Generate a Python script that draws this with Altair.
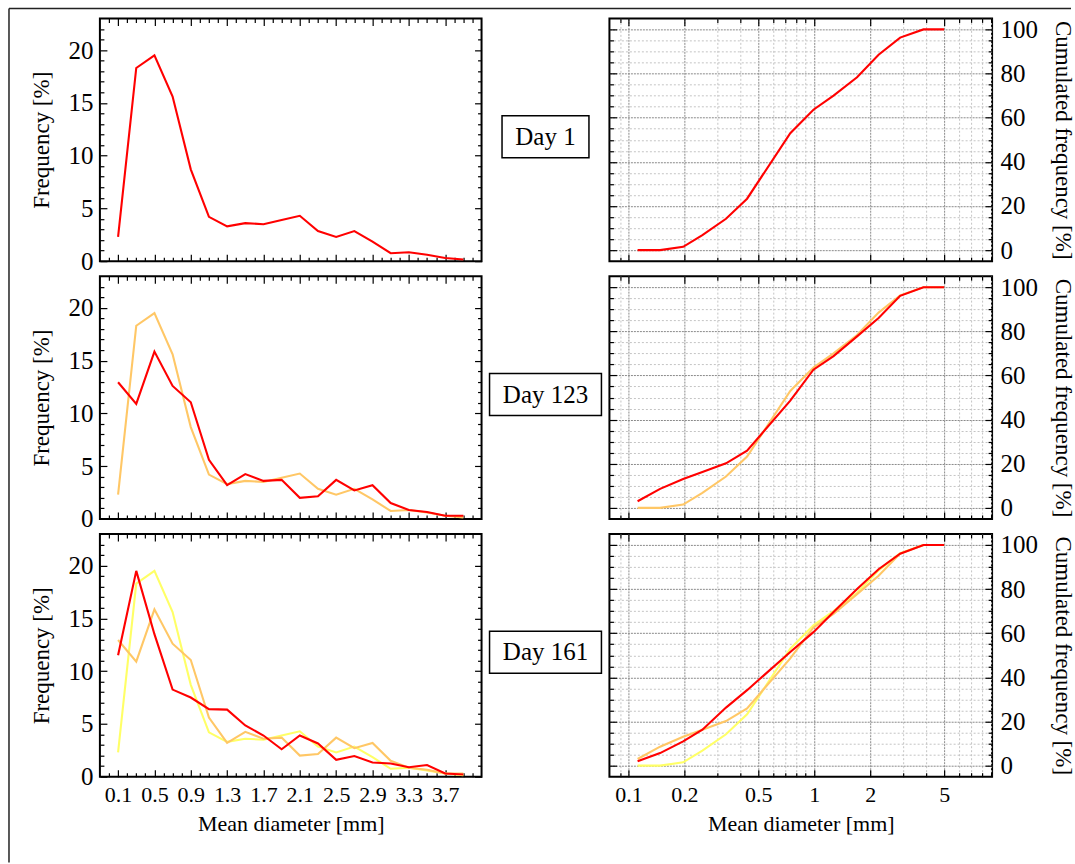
import altair as alt
import pandas as pd

# ---------------- data ----------------
days = ["Day 1", "Day 123", "Day 161"]

mean_diameter = [0.1, 0.3, 0.5, 0.7, 0.9, 1.1, 1.3, 1.5, 1.7, 1.9,
                 2.1, 2.3, 2.5, 2.7, 2.9, 3.1, 3.3, 3.5, 3.7, 3.9]
freq_day1 = [2.3, 18.3, 19.5, 15.6, 8.7, 4.2, 3.3, 3.6, 3.5, 3.9,
             4.3, 2.85, 2.3, 2.85, 1.85, 0.75, 0.85, 0.6, 0.3, 0.15]
freq_day123 = [12.95, 10.9, 15.85, 12.6, 11.05, 5.6, 3.2, 4.25, 3.6, 3.7,
               2.0, 2.15, 3.7, 2.7, 3.2, 1.5, 0.85, 0.65, 0.3, 0.3]
freq_day161 = [11.5, 19.5, 13.5, 8.25, 7.5, 6.4, 6.35, 4.85, 3.9, 2.6,
               3.9, 3.15, 1.6, 1.95, 1.35, 1.25, 0.9, 1.1, 0.3, 0.2]

sieve_diameter = [0.112, 0.148, 0.197, 0.25, 0.335, 0.435, 0.743, 0.99,
                  1.27, 1.7, 2.22, 2.9, 3.87, 5.0]
cum_day1 = [0, 0, 1.5, 6.8, 14.2, 23.3, 53.0, 63.6, 70.0, 78.3, 88.5, 96.3, 100, 100]
cum_day123 = [3.0, 8.6, 13.1, 16.3, 20.2, 25.9, 48.6, 62.6, 68.8, 77.7, 86.0, 96.1, 100, 100]
cum_day161 = [2.0, 5.7, 11.0, 16.3, 26.3, 34.2, 51.5, 60.5, 69.6, 80.0, 89.0, 96.0, 100, 100]

freq_x_labels = [0.1, 0.5, 0.9, 1.3, 1.7, 2.1, 2.5, 2.9, 3.3, 3.7]
freq_x_minor = [0.0, 0.2, 0.3, 0.4, 0.6, 0.7, 0.8, 1.0, 1.1, 1.2, 1.4, 1.5, 1.6,
                1.8, 1.9, 2.0, 2.2, 2.3, 2.4, 2.6, 2.7, 2.8, 3.0, 3.1, 3.2,
                3.4, 3.5, 3.6, 3.8, 3.9, 4.0]
freq_y_labels = [0, 5, 10, 15, 20]
freq_y_minor = [1, 2, 3, 4, 6, 7, 8, 9, 11, 12, 13, 14, 16, 17, 18, 19, 21, 22]
log_x_labels = [0.1, 0.2, 0.5, 1, 2, 5]
log_x_minor = [0.09, 0.3, 0.4, 0.6, 0.7, 0.8, 0.9, 3, 4, 6, 7, 8, 9]
cum_y_labels = [0, 20, 40, 60, 80, 100]
cum_y_minor = [5, 10, 15, 25, 30, 35, 45, 50, 55, 65, 70, 75, 85, 90, 95]

freq_series = [freq_day1, freq_day123, freq_day161]
cum_series = [cum_day1, cum_day123, cum_day161]

# ---------------- styles ----------------
FONT = "Liberation Serif"
RED, ORANGE, YELLOW = "#ff0000", "#ffc766", "#ffff66"
ROW_COLORS = [[RED], [ORANGE, RED], [YELLOW, ORANGE, RED]]
PW_L, PW_R, PH = 382, 383, 243
MID_W = 112
MAJ, MIN = 7, 4


def tick_axis(orient, values, size, labels=False, title=None, **kw):
    opts = dict(orient=orient, values=values, tickSize=size, offset=-size,
                domain=False, grid=False, ticks=True, tickColor="black",
                tickWidth=1.2, labels=labels, title=title)
    opts.update(kw)
    return alt.Axis(**opts)


def grid_axis(orient, values, color, dash):
    return alt.Axis(orient=orient, values=values, grid=True, gridColor=color,
                    gridDash=dash, gridWidth=1, ticks=False, labels=False,
                    domain=False, title=None)


def axis_layers(df, xs, ys, pairs):
    out = []
    for xa, ya in pairs:
        out.append(alt.Chart(df).mark_point(opacity=0).encode(
            x=alt.X("d:Q", scale=xs, axis=xa),
            y=alt.Y("v:Q", scale=ys, axis=ya)))
    return out


def frame_layers():
    one = pd.DataFrame({"k": [0]})
    top = alt.Chart(one).mark_rule(color="#222", strokeWidth=1.5).encode(
        x=alt.value(-91), x2=alt.value(972), y=alt.value(-10))
    left = alt.Chart(one).mark_rule(color="#222", strokeWidth=1.5).encode(
        x=alt.value(-91), y=alt.value(-10), y2=alt.value(845))
    return [top, left]


def freq_panel(row):
    last = row == 2
    xs = alt.Scale(domain=[-0.1, 4.1], nice=False, zero=False)
    ys = alt.Scale(domain=[0, 23], nice=False, zero=False)
    base = pd.DataFrame({"d": mean_diameter, "v": freq_day1})
    xb = tick_axis("bottom", freq_x_labels, MAJ, labels=last,
                   title="Mean diameter [mm]" if last else None,
                   format=".1f", labelFontSize=22, labelPadding=8,
                   titleFontSize=22, titlePadding=8)
    yl = tick_axis("left", freq_y_labels, MAJ, labels=True,
                   title="Frequency [%]", format="d", labelFontSize=25,
                   labelPadding=7, titleFontSize=23, titlePadding=14)
    pairs = [
        (xb, yl),
        (tick_axis("bottom", freq_x_minor, MIN), tick_axis("left", freq_y_minor, MIN)),
        (tick_axis("top", freq_x_labels, MAJ), tick_axis("right", freq_y_labels, MAJ)),
        (tick_axis("top", freq_x_minor, MIN), tick_axis("right", freq_y_minor, MIN)),
    ]
    layers = axis_layers(base, xs, ys, pairs)
    for vals, col in zip(freq_series[:row + 1], ROW_COLORS[row]):
        df = pd.DataFrame({"d": mean_diameter, "v": vals})
        layers.append(alt.Chart(df).mark_line(color=col, strokeWidth=2.1).encode(
            x=alt.X("d:Q", scale=xs, axis=None),
            y=alt.Y("v:Q", scale=ys, axis=None)))
    if row == 0:
        layers += frame_layers()
    return alt.layer(*layers).resolve_axis(x="independent", y="independent").properties(
        width=PW_L, height=PH)


def cum_panel(row):
    last = row == 2
    xs = alt.Scale(type="log", domain=[0.079, 9.06], nice=False)
    ys = alt.Scale(domain=[-5, 105], nice=False, zero=False)
    base = pd.DataFrame({"d": sieve_diameter, "v": cum_day1})
    xb = tick_axis("bottom", log_x_labels, MAJ, labels=last,
                   title="Mean diameter [mm]" if last else None,
                   format="~g", labelFontSize=22, labelPadding=8,
                   titleFontSize=22, titlePadding=8)
    yr = tick_axis("right", cum_y_labels, MAJ, labels=True,
                   title="Cumulated frequency [%]", format="d",
                   labelFontSize=25, labelPadding=8, titleFontSize=23,
                   titlePadding=13)
    pairs = [
        (grid_axis("bottom", log_x_minor, "#c4c4c4", [2, 2]),
         grid_axis("left", cum_y_minor, "#c4c4c4", [2, 2])),
        (grid_axis("bottom", log_x_labels, "#8a8a8a", [2, 1]),
         grid_axis("left", cum_y_labels, "#8a8a8a", [2, 1])),
        (xb, tick_axis("left", cum_y_labels, MAJ)),
        (tick_axis("bottom", log_x_minor, MIN), tick_axis("left", cum_y_minor, MIN)),
        (tick_axis("top", log_x_labels, MAJ), yr),
        (tick_axis("top", log_x_minor, MIN), tick_axis("right", cum_y_minor, MIN)),
    ]
    layers = axis_layers(base, xs, ys, pairs)
    for vals, col in zip(cum_series[:row + 1], ROW_COLORS[row]):
        df = pd.DataFrame({"d": sieve_diameter, "v": vals})
        layers.append(alt.Chart(df).mark_line(color=col, strokeWidth=2.1).encode(
            x=alt.X("d:Q", scale=xs, axis=None),
            y=alt.Y("v:Q", scale=ys, axis=None)))
    return alt.layer(*layers).resolve_axis(x="independent", y="independent").properties(
        width=PW_R, height=PH)


def day_cell(i):
    bw = 87 if i == 0 else 112
    x0 = (MID_W - bw) / 2
    cy = 118.5
    df = pd.DataFrame({"t": [days[i]]})
    box = alt.Chart(df).mark_rect(filled=False, stroke="black", strokeWidth=1.5).encode(
        x=alt.value(x0), x2=alt.value(x0 + bw),
        y=alt.value(cy - 21), y2=alt.value(cy + 21))
    txt = alt.Chart(df).mark_text(font=FONT, fontSize=25, align="center",
                                  baseline="middle", color="black").encode(
        text="t:N", x=alt.value(MID_W / 2), y=alt.value(cy))
    return alt.layer(box, txt).properties(
        width=MID_W, height=PH, view=alt.ViewBackground(stroke="transparent"))


cells = []
for r in range(3):
    cells += [freq_panel(r), day_cell(r), cum_panel(r)]

chart = alt.concat(*cells, columns=3, spacing={"row": 15, "column": 8},
                   bounds="flush").properties(
    padding={"left": 7, "top": 6, "right": 0, "bottom": 0}
).configure_view(stroke="black", strokeWidth=2).configure_axis(
    labelFont=FONT, titleFont=FONT, labelColor="black", titleColor="black",
    titleFontWeight="normal"
).configure_text(font=FONT)

chart.save("out.html", embed_options={"renderer": "svg", "actions": False})
